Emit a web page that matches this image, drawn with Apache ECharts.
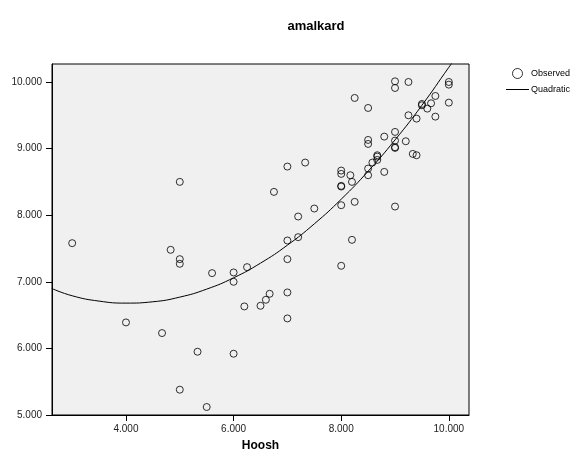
<!DOCTYPE html>
<html>
<head>
<meta charset="utf-8">
<script src="https://cdn.jsdelivr.net/npm/echarts@6/dist/echarts.min.js"></script>
<style>
  html, body { margin: 0; padding: 0; background: #fff; }
  #chart { width: 576px; height: 457px; }
</style>
</head>
<body>
<div id="chart"></div>
<script>
// observed points (Hoosh, amalkard)
const hoosh = [3.0, 4.0, 4.67, 4.83, 5.0, 5.0, 5.0, 5.0, 5.33, 5.5, 5.6, 6.0, 6.0, 6.0, 6.2, 6.25,
  6.5, 6.6, 6.67, 6.75, 7.0, 7.0, 7.0, 7.0, 7.0, 7.2, 7.2, 7.33, 7.5, 8.0, 8.0, 8.0, 8.0, 8.0, 8.0,
  8.17, 8.2, 8.2, 8.25, 8.25, 8.5, 8.5, 8.5, 8.5, 8.5, 8.58, 8.67, 8.67, 8.67, 8.8, 8.8, 9.0, 9.0,
  9.0, 9.0, 9.0, 9.0, 9.0, 9.2, 9.25, 9.25, 9.33, 9.4, 9.4, 9.5, 9.5, 9.6, 9.67, 9.75, 9.75, 10.0,
  10.0, 10.0];
const amalkard = [7.58, 6.39, 6.23, 7.48, 8.50, 7.34, 7.27, 5.38, 5.95, 5.12, 7.13, 7.14, 7.0, 5.92, 6.63, 7.22,
  6.64, 6.73, 6.82, 8.35, 8.73, 7.62, 7.34, 6.84, 6.45, 7.98, 7.67, 8.79, 8.10, 8.67, 8.62, 8.43, 8.44, 8.15, 7.24,
  8.60, 8.50, 7.63, 8.20, 9.76, 9.61, 9.13, 9.07, 8.70, 8.60, 8.79, 8.83, 8.90, 8.88, 9.18, 8.65, 10.01, 9.91,
  9.25, 9.12, 9.01, 9.02, 8.13, 9.11, 10.0, 9.50, 8.92, 8.90, 9.45, 9.67, 9.65, 9.60, 9.68, 9.79, 9.48, 10.0,
  9.96, 9.69];

// quadratic curve
const curveX = [2.62, 3.0, 3.5, 4.0, 4.5, 5.0, 5.5, 6.0, 6.5, 7.0, 7.5, 8.0, 8.5, 9.0, 9.5, 10.0, 10.1];
const curveY = [6.90, 6.79, 6.71, 6.68, 6.70, 6.77, 6.89, 7.06, 7.28, 7.55, 7.87, 8.24, 8.66, 9.13, 9.65, 10.22, 10.33];

const xTicks = [4, 6, 8, 10];
const yTicks = [5, 6, 7, 8, 9, 10];

const chart = echarts.init(document.getElementById('chart'));

const fmt = function (v) { return v.toFixed(3); };
const legendText = { fontFamily: 'Liberation Sans', fontSize: 9, color: '#000', padding: [0, 0, 0, -3] };

chart.setOption({
  animation: false,
  title: {
    text: 'amalkard',
    left: 311,
    top: 15,
    textAlign: 'center',
    textStyle: { fontFamily: 'Liberation Sans', fontSize: 13, fontWeight: 'bold', color: '#000' }
  },
  legend: [
    {
      left: 512,
      top: 68,
      padding: 0,
      itemWidth: 23,
      itemHeight: 10,
      textStyle: legendText,
      data: [{ name: 'Observed', icon: 'circle', itemStyle: { color: 'transparent', borderColor: '#000', borderWidth: 1 } }]
    },
    {
      left: 506,
      top: 85,
      padding: 0,
      itemWidth: 23,
      itemHeight: 1,
      textStyle: legendText,
      data: [{ name: 'Quadratic', icon: 'rect', itemStyle: { color: '#000', borderWidth: 0 } }]
    }
  ],
  grid: {
    left: 52,
    top: 64,
    right: 107,
    bottom: 37,
    show: true,
    backgroundColor: '#f0f0f0',
    borderColor: '#000',
    borderWidth: 1
  },
  xAxis: {
    type: 'value',
    min: 2.625,
    max: 10.375,
    name: 'Hoosh',
    nameLocation: 'middle',
    nameGap: 25,
    nameTextStyle: { fontFamily: 'Liberation Sans', fontSize: 12, fontWeight: 'bold', color: '#000' },
    splitLine: { show: false },
    axisLine: { lineStyle: { color: '#000', width: 1 } },
    axisTick: { customValues: xTicks, length: 6, lineStyle: { color: '#000' } },
    axisLabel: { customValues: xTicks, formatter: fmt, margin: 9, fontFamily: 'Liberation Sans', fontSize: 10, color: '#222' }
  },
  yAxis: {
    type: 'value',
    min: 5,
    max: 10.27,
    splitLine: { show: false },
    axisLine: { lineStyle: { color: '#000', width: 1 } },
    axisTick: { customValues: yTicks, length: 6, lineStyle: { color: '#000' } },
    axisLabel: { customValues: yTicks, formatter: fmt, margin: 10, fontFamily: 'Liberation Sans', fontSize: 10, color: '#222' }
  },
  series: [
    {
      name: 'Observed',
      type: 'scatter',
      symbol: 'circle',
      symbolSize: 7,
      itemStyle: { color: 'transparent', borderColor: '#000', borderWidth: 1 },
      data: hoosh.map(function (x, i) { return [x, amalkard[i]]; })
    },
    {
      name: 'Quadratic',
      type: 'line',
      symbol: 'none',
      smooth: true,
      clip: true,
      lineStyle: { color: '#000', width: 1 },
      itemStyle: { color: '#000' },
      data: curveX.map(function (x, i) { return [x, curveY[i]]; })
    }
  ]
});
</script>
</body>
</html>
